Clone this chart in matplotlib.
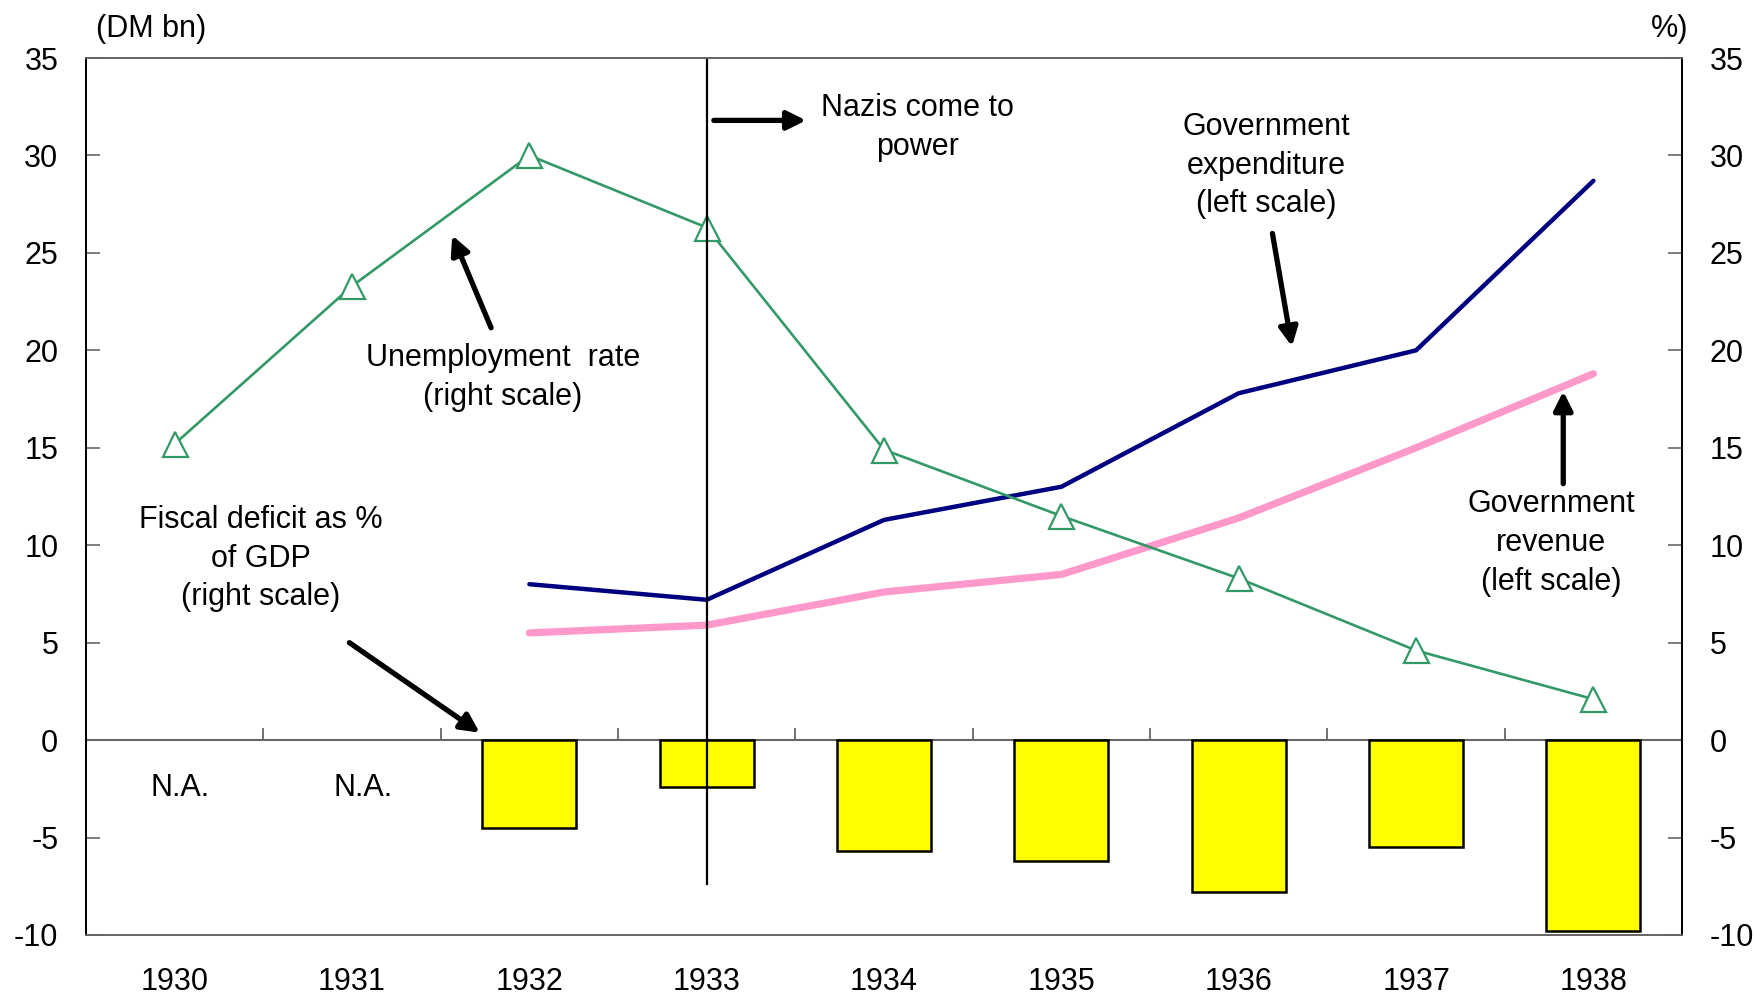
import matplotlib
matplotlib.use("Agg")
import matplotlib.pyplot as plt

plt.rcParams['font.family'] = ['Liberation Sans', 'DejaVu Sans']

years = ['1930', '1931', '1932', '1933', '1934', '1935', '1936', '1937', '1938']
unemployment = [15.2, 23.3, 30.0, 26.3, 14.9, 11.5, 8.3, 4.6, 2.1]
expenditure = [None, None, 8.0, 7.2, 11.3, 13.0, 17.8, 20.0, 28.7]
revenue = [None, None, 5.5, 5.9, 7.6, 8.5, 11.4, 15.0, 18.8]
deficit = [None, None, -4.5, -2.4, -5.7, -6.2, -7.8, -5.5, -9.8]
yticks = [35, 30, 25, 20, 15, 10, 5, 0, -5, -10]

FS = 22

fig = plt.figure(figsize=(17.56, 9.97), dpi=100)
ax = fig.add_axes([0.049, 0.0622, 0.9089, 0.8796])
x = list(range(len(years)))

# zero line
ax.axhline(0, color='#666666', lw=1.5, zorder=1)
# small ticks at category boundaries on zero line
for b in range(1, len(years)):
    ax.plot([b - 0.5, b - 0.5], [0, 0.55], color='#666666', lw=1.3, zorder=1)

# bars
bx = [i for i, v in enumerate(deficit) if v is not None]
bv = [v for v in deficit if v is not None]
ax.bar(bx, bv, width=0.53, color='#FFFF00', edgecolor='black', linewidth=1.8, zorder=2)

# lines
ex = [i for i, v in enumerate(expenditure) if v is not None]
ev = [v for v in expenditure if v is not None]
rx = [i for i, v in enumerate(revenue) if v is not None]
rv = [v for v in revenue if v is not None]
ax.plot(rx, rv, color='#FF99CC', lw=5.2, zorder=3, solid_capstyle='round')
ax.plot(ex, ev, color='#000080', lw=3.2, zorder=3, solid_capstyle='round')
ax.plot(x, unemployment, color='#339966', lw=1.9, marker='^', markersize=18,
        markerfacecolor='white', markeredgecolor='#339966', markeredgewidth=1.6, zorder=4)

# vertical line at 1933
ax.plot([3, 3], [-7.4, 35], color='black', lw=1.6, zorder=5)

ax.set_xlim(-0.5, 8.5)
ax.set_ylim(-10, 35)
ax.set_yticks(yticks)
ax.set_yticklabels([str(t) for t in yticks], fontsize=FS)
ax.tick_params(axis='y', direction='in', length=10, width=1.2, color='#666666', pad=20)
ax.set_xticks(x)
ax.set_xticklabels(years, fontsize=FS)
ax.tick_params(axis='x', length=0, pad=23)

ax2 = ax.twinx()
ax2.set_ylim(-10, 35)
ax2.set_yticks(yticks)
ax2.set_yticklabels([str(t) for t in yticks], fontsize=FS)
ax2.tick_params(axis='y', direction='in', length=10, width=1.2, color='#666666', pad=20)

for a in (ax, ax2):
    a.spines['left'].set_color('black')
    a.spines['right'].set_color('black')
    a.spines['top'].set_color('#666666')
    a.spines['bottom'].set_color('#666666')
    for s in a.spines.values():
        s.set_linewidth(1.3)

# axis unit labels
ax.text(0.041, 1.033, '(DM bn)', transform=ax.transAxes, ha='center', va='center', fontsize=FS)
ax.text(0.9925, 1.033, '%)', transform=ax.transAxes, ha='center', va='center', fontsize=FS)

# annotations
LS = 1.38
ax.text(4.19, 31.44, 'Nazis come to\npower', ha='center', va='center', fontsize=FS, linespacing=LS)
ax.text(6.157, 29.48, 'Government\nexpenditure\n(left scale)', ha='center', va='center', fontsize=FS, linespacing=LS)
ax.text(1.85, 18.62, 'Unemployment  rate\n(right scale)', ha='center', va='center', fontsize=FS, linespacing=LS)
ax.text(0.485, 9.31, 'Fiscal deficit as %\nof GDP\n(right scale)', ha='center', va='center', fontsize=FS, linespacing=LS)
ax.text(7.76, 10.11, 'Government\nrevenue\n(left scale)', ha='center', va='center', fontsize=FS, linespacing=LS)
ax.text(0.03, -2.45, 'N.A.', ha='center', va='center', fontsize=FS)
ax.text(1.06, -2.45, 'N.A.', ha='center', va='center', fontsize=FS)

ap = dict(arrowstyle='-|>', lw=3.8, color='black', mutation_scale=28, shrinkA=0, shrinkB=0)
ax.annotate('', xy=(1.565, 25.9), xytext=(1.784, 21.16), arrowprops=ap, zorder=6)
ax.annotate('', xy=(3.56, 31.8), xytext=(3.04, 31.8), arrowprops=ap, zorder=6)
ax.annotate('', xy=(6.30, 20.2), xytext=(6.19, 26.0), arrowprops=ap, zorder=6)
ax.annotate('', xy=(7.83, 17.9), xytext=(7.83, 13.16), arrowprops=ap, zorder=6)
ax.annotate('', xy=(1.72, 0.38), xytext=(0.985, 5.0), arrowprops=ap, zorder=6)

fig.savefig('out.png', dpi=100, facecolor='white')
